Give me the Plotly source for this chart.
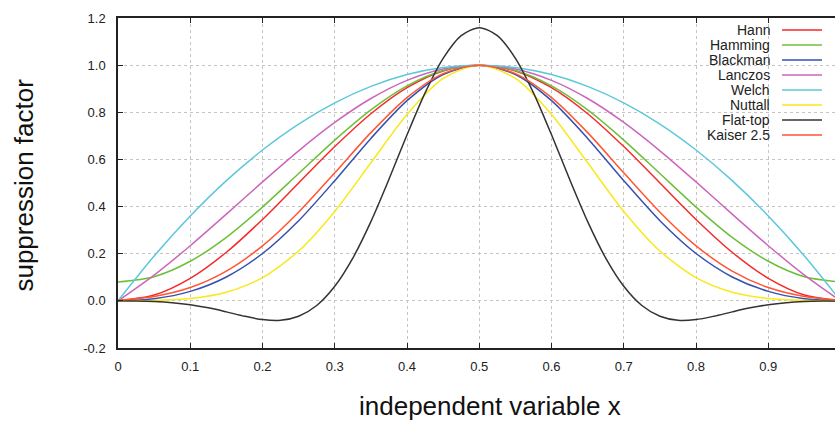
import plotly.graph_objects as go

# ---------------- data ----------------
x_coarse = [0.0, 0.05, 0.1, 0.15, 0.2, 0.25, 0.3, 0.35, 0.4, 0.45, 0.5,
            0.55, 0.6, 0.65, 0.7, 0.75, 0.8, 0.85, 0.9, 0.95, 1.0]
x_fine = [0.0, 0.025, 0.05, 0.075, 0.1, 0.125, 0.15, 0.175, 0.2, 0.225, 0.25,
          0.275, 0.3, 0.325, 0.35, 0.375, 0.4, 0.425, 0.45, 0.475, 0.5,
          0.525, 0.55, 0.575, 0.6, 0.625, 0.65, 0.675, 0.7, 0.725, 0.75,
          0.775, 0.8, 0.825, 0.85, 0.875, 0.9, 0.925, 0.95, 0.975, 1.0]

hann = [0.0, 0.0245, 0.0955, 0.2061, 0.3455, 0.5, 0.6545, 0.7939, 0.9045, 0.9755, 1.0,
        0.9755, 0.9045, 0.7939, 0.6545, 0.5, 0.3455, 0.2061, 0.0955, 0.0245, 0.0]
hamming = [0.08, 0.1025, 0.1679, 0.2696, 0.3979, 0.54, 0.6821, 0.8104, 0.9121, 0.9775, 1.0,
           0.9775, 0.9121, 0.8104, 0.6821, 0.54, 0.3979, 0.2696, 0.1679, 0.1025, 0.08]
blackman = [0.0, 0.0092, 0.0402, 0.1014, 0.2008, 0.34, 0.5098, 0.6892, 0.8492, 0.9602, 1.0,
            0.9602, 0.8492, 0.6892, 0.5098, 0.34, 0.2008, 0.1014, 0.0402, 0.0092, 0.0]
lanczos = [0.0, 0.1093, 0.2339, 0.3679, 0.5046, 0.6366, 0.7568, 0.8584, 0.9355, 0.9836, 1.0,
           0.9836, 0.9355, 0.8584, 0.7568, 0.6366, 0.5046, 0.3679, 0.2339, 0.1093, 0.0]
welch = [0.0, 0.19, 0.36, 0.51, 0.64, 0.75, 0.84, 0.91, 0.96, 0.99, 1.0,
         0.99, 0.96, 0.91, 0.84, 0.75, 0.64, 0.51, 0.36, 0.19, 0.0]
nuttall = [0.0, 0.0015, 0.0099, 0.0367, 0.0987, 0.2115, 0.3795, 0.5857, 0.7908, 0.9434, 1.0,
           0.9434, 0.7908, 0.5857, 0.3795, 0.2115, 0.0987, 0.0367, 0.0099, 0.0015, 0.0]
flattop = [0.0, -0.0006, -0.0028, -0.0077, -0.0164, -0.0296, -0.0467, -0.0650, -0.0794, -0.0825,
           -0.0655, -0.0196, 0.0619, 0.1815, 0.3360, 0.5156, 0.7044, 0.8825, 1.0290, 1.1254, 1.1590,
           1.1254, 1.0290, 0.8825, 0.7044, 0.5156, 0.3360, 0.1815, 0.0619, -0.0196, -0.0655,
           -0.0825, -0.0794, -0.0650, -0.0467, -0.0296, -0.0164, -0.0077, -0.0028, -0.0006, 0.0]
kaiser = [0.0027, 0.0186, 0.0565, 0.1263, 0.2335, 0.3763, 0.5431, 0.7137, 0.8623, 0.9639, 1.0,
          0.9639, 0.8623, 0.7137, 0.5431, 0.3763, 0.2335, 0.1263, 0.0565, 0.0186, 0.0027]

names = ["Hann", "Hamming", "Blackman", "Lanczos", "Welch", "Nuttall", "Flat-top", "Kaiser 2.5"]
series = [hann, hamming, blackman, lanczos, welch, nuttall, flattop, kaiser]
xs = [x_coarse, x_coarse, x_coarse, x_coarse, x_coarse, x_coarse, x_fine, x_coarse]
colors = ["#f42a2a", "#6cc038", "#3352b0", "#cc66bb", "#5cc8dc", "#f8e81c", "#333333", "#ff5533"]

x_tickvals = [0, 0.1, 0.2, 0.3, 0.4, 0.5, 0.6, 0.7, 0.8, 0.9]
x_ticktext = ["0", "0.1", "0.2", "0.3", "0.4", "0.5", "0.6", "0.7", "0.8", "0.9"]
y_tickvals = [-0.2, 0.0, 0.2, 0.4, 0.6, 0.8, 1.0, 1.2]
y_ticktext = ["-0.2", "0.0", "0.2", "0.4", "0.6", "0.8", "1.0", "1.2"]

FONT = "Liberation Sans, Arial, Helvetica, sans-serif"

fig = go.Figure()
for n, xv, yv, c in zip(names, xs, series, colors):
    fig.add_trace(go.Scatter(x=xv, y=yv, mode="lines", name=n, showlegend=False,
                             line=dict(color=c, width=1.5, shape="spline", smoothing=0.8)))

W, H = 835, 421
L, R, T, B = 117.5, 835, 18, 348
pw, ph = R - L, B - T
def px(xp):
    return (xp - L) / pw
def py(yp):
    return (B - yp) / ph

# gnuplot-style legend: right-aligned text with line sample on the right
leg_top = 30
leg_step = 15
for i, (n, c) in enumerate(zip(names, colors)):
    yy = py(leg_top + i * leg_step)
    fig.add_annotation(x=px(772), y=yy, xref="paper", yref="paper", text=n,
                       showarrow=False, xanchor="right", yanchor="middle",
                       font=dict(family=FONT, size=14, color="#222222"))
    fig.add_shape(type="line", xref="paper", yref="paper",
                  x0=px(782), x1=px(822), y0=yy, y1=yy,
                  line=dict(color=c, width=1.5))

fig.add_annotation(x=px(489.5), y=py(406), xref="paper", yref="paper",
                   text="independent variable x", showarrow=False,
                   xanchor="center", yanchor="middle",
                   font=dict(family=FONT, size=26, color="#111111"))
fig.add_annotation(x=px(23), y=py(185), xref="paper", yref="paper",
                   text="suppression factor", showarrow=False, textangle=-90,
                   xanchor="center", yanchor="middle",
                   font=dict(family=FONT, size=26, color="#111111"))

fig.update_layout(
    width=W, height=H,
    margin=dict(l=L, r=W - R, t=T, b=H - B, pad=0),
    paper_bgcolor="white", plot_bgcolor="white",
    font=dict(family=FONT, size=13, color="#222222"),
    xaxis=dict(range=[0, 0.9923], tickvals=x_tickvals, ticktext=x_ticktext,
               ticks="inside", ticklen=5, tickcolor="#222222", tickwidth=1,
               showline=True, linecolor="#222222", linewidth=1.5, mirror="ticks",
               showgrid=True, gridcolor="#c4c4c4", griddash="dot", gridwidth=1,
               zeroline=False, ticklabelstandoff=6,
               tickfont=dict(family=FONT, size=13, color="#222222")),
    yaxis=dict(range=[-0.2, 1.2], tickvals=y_tickvals, ticktext=y_ticktext,
               ticks="inside", ticklen=5, tickcolor="#222222", tickwidth=1,
               showline=True, linecolor="#222222", linewidth=1.5, mirror=False,
               showgrid=True, gridcolor="#c4c4c4", griddash="dot", gridwidth=1,
               zeroline=False, ticklabelstandoff=8,
               tickfont=dict(family=FONT, size=13, color="#222222")),
)

fig.write_html("out.html",
               config={"displayModeBar": False},
               post_script="document.body.style.margin='0';"
                           "document.body.style.overflow='hidden';"
                           "document.documentElement.style.overflow='hidden';")
